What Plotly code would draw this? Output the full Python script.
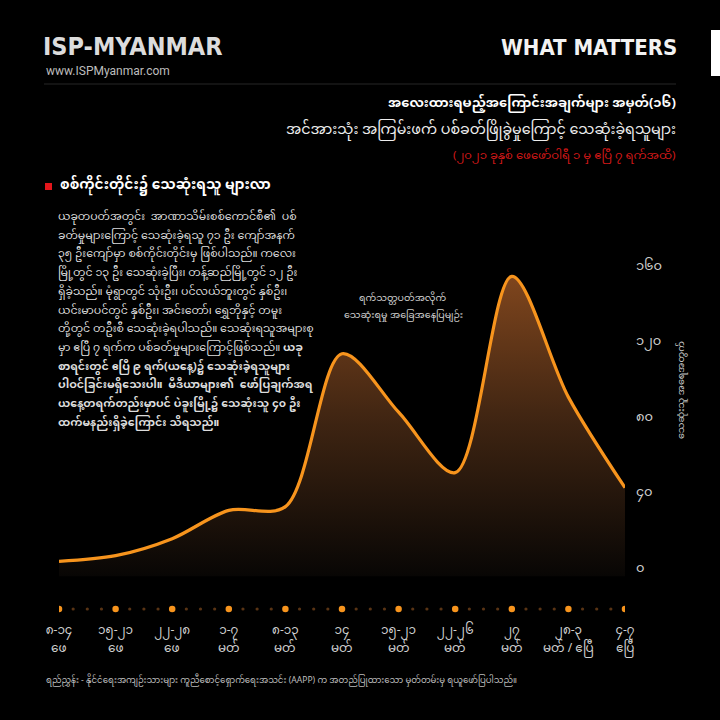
import plotly.graph_objects as go

# ---------------- data ----------------
week_days = ["၈-၁၄", "၁၅-၂၁", "၂၂-၂၈", "၁-၇", "၈-၁၃", "၁၄", "၁၅-၂၁", "၂၂-၂၆", "၂၇", "၂၈-၃", "၄-၇"]
week_months = ["ဖေ", "ဖေ", "ဖေ", "မတ်", "မတ်", "မတ်", "မတ်", "မတ်", "မတ်", "မတ် / ဧပြီ", "ဧပြီ"]
week_index = list(range(len(week_days)))
deaths = [3, 6, 15, 30, 32, 113, 82, 50, 154, 90, 42]

y_tick_vals = [0, 40, 80, 120, 160]
y_tick_text = ["၀", "၄၀", "၈၀", "၁၂၀", "၁၆၀"]

minor_steps = [0.25, 0.5, 0.75]

paragraph_lines = [
    "ယခုတပတ်အတွင်း  အာဏာသိမ်းစစ်ကောင်စီ၏  ပစ်",
    "ခတ်မှုများကြောင့် သေဆုံးခဲ့ရသူ ၇၁ ဦး ကျော်အနက်",
    "၃၅ ဦးကျော်မှာ စစ်ကိုင်းတိုင်းမှ ဖြစ်ပါသည်။ ကလေး",
    "မြို့တွင် ၁၃ ဦး သေဆုံးခဲ့ပြီး၊ တန့်ဆည်မြို့တွင် ၁၂ ဦး",
    "ရှိခဲ့သည်။ မုံရွာတွင် သုံးဦး၊ ပင်လယ်ဘူးတွင် နှစ်ဦး၊",
    "ယင်းမာပင်တွင် နှစ်ဦး၊ အင်းတော်၊ ရွှေဘိုနှင့် တမူး",
    "တို့တွင် တဦးစီ သေဆုံးခဲ့ရပါသည်။ သေဆုံးရသူအများစု",
    "မှာ ဧပြီ ၇ ရက်က ပစ်ခတ်မှုများကြောင့်ဖြစ်သည်။ <b>ယခု</b>",
    "<b>စာရင်းတွင် ဧပြီ ၉ ရက်(ယနေ့)၌ သေဆုံးခဲ့ရသူများ</b>",
    "<b>ပါဝင်ခြင်းမရှိသေးပါ။  မီဒီယာများ၏  ဖော်ပြချက်အရ</b>",
    "<b>ယနေ့တရက်တည်းမှာပင် ပဲခူးမြို့၌ သေဆုံးသူ ၄၀ ဦး</b>",
    "<b>ထက်မနည်းရှိခဲ့ကြောင်း သိရသည်။</b>",
]

MY_FONT = "Noto Sans Myanmar, Padauk, Myanmar Text, Noto Sans, sans-serif"
HEAD_FONT = "Liberation Sans Narrow, DejaVu Sans Condensed, Roboto, sans-serif"
ORANGE = "#F7941D"

W = H = 720


def px(x):
    return x / W


def py(y):
    return 1 - y / H


# ---------------- figure ----------------
fig = go.Figure()

# baseline for the gradient fill
fig.add_trace(go.Scatter(x=week_index, y=[-5] * len(week_index), mode="lines",
                         line=dict(width=0, color="rgba(0,0,0,0)"), hoverinfo="skip",
                         showlegend=False))
fig.add_trace(go.Scatter(
    x=week_index, y=deaths, mode="lines",
    line=dict(color=ORANGE, width=3.2, shape="spline", smoothing=0.9),
    fill="tonexty",
    fillgradient=dict(type="vertical",
                      colorscale=[[0, "rgb(6,5,4)"], [0.5, "rgb(62,36,18)"], [1, "rgb(132,72,30)"]],
                      start=-8, stop=160),
    showlegend=False))

# timeline dots
minor_x = [i + s for i in week_index[:-1] for s in minor_steps]
fig.add_trace(go.Scatter(x=minor_x, y=[0] * len(minor_x), mode="markers", xaxis="x", yaxis="y2",
                         marker=dict(color="#5a3414", size=3.2), showlegend=False))
fig.add_trace(go.Scatter(x=week_index, y=[0] * len(week_index), mode="markers", xaxis="x", yaxis="y2",
                         marker=dict(color=ORANGE, size=6.5), showlegend=False))

y_lo, y_hi = -5, 165
fig.update_layout(
    template="none",
    width=W, height=H,
    margin=dict(l=0, r=0, t=0, b=0, pad=0),
    paper_bgcolor="black", plot_bgcolor="rgba(0,0,0,0)",
    xaxis=dict(domain=[px(59), px(625)], range=[0, 10], anchor="y2", automargin=False,
               tickvals=week_index, ticktext=week_days, ticks="",
               showgrid=False, zeroline=False, showline=False,
               tickfont=dict(family=MY_FONT, size=12, color="#d0d0d0"),
               ticklabelstandoff=7),
    yaxis=dict(domain=[py(567 + 5 * 1.8875), py(265 - 5 * 1.8875)], range=[y_lo, y_hi],
               side="right", anchor="x", automargin=False,
               tickvals=y_tick_vals, ticktext=y_tick_text,
               ticks="", showgrid=False, zeroline=False, showline=False,
               tickfont=dict(family=MY_FONT, size=13, color="#cfcfcf"),
               ticklabelstandoff=10),
    yaxis2=dict(domain=[py(614), py(604)], range=[-1, 1], anchor="x",
                visible=False, automargin=False),
)

ann = []


def add(text, x, y, size, color, xanchor="left", family=MY_FONT, yanchor="middle", **kw):
    ann.append(dict(text=text, x=px(x), y=py(y), xref="paper", yref="paper",
                    xanchor=xanchor, yanchor=yanchor, showarrow=False,
                    font=dict(family=family, size=size, color=color), **kw))


# month line under each week label (placed on the x axis scale)
for i, m in zip(week_index, week_months):
    ann.append(dict(text=m, x=i, y=py(649), xref="x", yref="paper", xanchor="center",
                    yanchor="middle", showarrow=False,
                    font=dict(family=MY_FONT, size=12, color="#d0d0d0")))

# header
add("<b>ISP-MYANMAR</b>", 41, 47, 25, "#dcdcdc", family=HEAD_FONT)
add("www.ISPMyanmar.com", 44, 71, 12, "#bdbdbd", family="Roboto, sans-serif")
add("<b>WHAT MATTERS</b>", 679, 48, 22, "#f2f2f2", xanchor="right", family=HEAD_FONT)

# titles
add("<b>အလေးထားရမည့်အကြောင်းအချက်များ အမှတ်(၁၆)</b>", 678, 104, 13, "#ffffff", xanchor="right")
add("အင်အားသုံး အကြမ်းဖက် ပစ်ခတ်ဖြိုခွဲမှုကြောင့် သေဆုံးခဲ့ရသူများ", 678, 130, 14.3, "#eeeeee", xanchor="right")
add("(၂၀၂၁ ခုနှစ် ဖေဖော်ဝါရီ ၁ မှ ဧပြီ ၇ ရက်အထိ)", 678, 156, 11.6, "#d01818", xanchor="right")

# section heading
add("<b>စစ်ကိုင်းတိုင်း၌ သေဆုံးရသူ များလာ</b>", 58, 186, 13.8, "#ffffff")

# paragraph
for i, line in enumerate(paragraph_lines):
    add(line, 56, 217 + i * 18.7, 11, "#dcdcdc")

# in-chart annotation
add("ရက်သတ္တပတ်အလိုက်", 403, 298, 9.5, "#cfcfcf", xanchor="center")
add("သေဆုံးရမှု အခြေအနေပြမျဉ်း", 403, 315, 9.5, "#cfcfcf", xanchor="center")

# y-axis title
add("သေဆုံးသူ အရေအတွက်", 681, 390, 9.5, "#c8c8c8", xanchor="center", textangle=-90)

# footer
add("ရည်ညွှန်း - နိုင်ငံရေးအကျဉ်းသားများ ကူညီစောင့်ရှောက်ရေးအသင်း (AAPP) က အတည်ပြုထားသော မှတ်တမ်းမှ ရယူဖော်ပြပါသည်။",
    44, 681, 8.6, "#bdbdbd")

fig.update_layout(annotations=ann)

# separator under header and right white tab
fig.add_shape(type="line", xref="paper", yref="paper", x0=px(44), x1=px(676), y0=py(84), y1=py(84),
              line=dict(color="#262626", width=1))
fig.add_shape(type="rect", xref="paper", yref="paper", x0=px(711), x1=px(722), y0=py(76), y1=py(30),
              line=dict(width=0), fillcolor="#ffffff")
# red square bullet
fig.add_shape(type="rect", xref="paper", yref="paper", x0=px(45), x1=px(52), y0=py(190), y1=py(183),
              line=dict(width=0), fillcolor="#e3161b")

fig.write_html("out.html", config={"displayModeBar": False},
               post_script="document.body.style.margin='0';document.body.style.background='black';"
                           "document.documentElement.style.overflow='hidden';")
